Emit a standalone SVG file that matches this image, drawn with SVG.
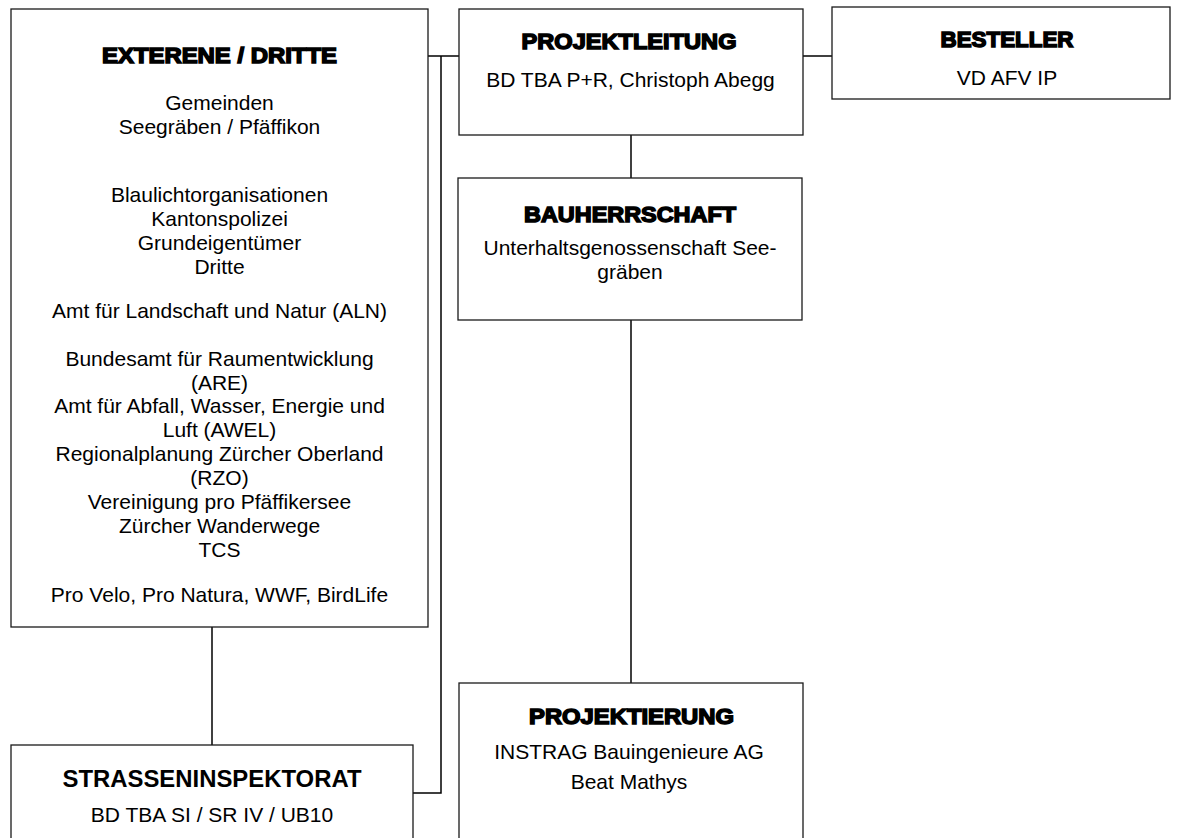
<svg xmlns="http://www.w3.org/2000/svg" width="1181" height="838" viewBox="0 0 1181 838">
<style>
.box{fill:#fff;stroke:#1a1a1a;stroke-width:1.3}
.con{stroke:#000;stroke-width:1.5;fill:none}
.t{font-family:"Liberation Sans",Arial,sans-serif;font-size:21px;fill:#000;text-anchor:middle}
.h{font-family:"Liberation Sans",Arial,sans-serif;font-weight:bold;font-size:22px;fill:#000;stroke:#000;stroke-width:1.5;text-anchor:middle}
.hb{font-family:"Liberation Sans",Arial,sans-serif;font-weight:bold;font-size:23px;fill:#000;text-anchor:middle}
</style>
<rect width="1181" height="838" fill="#fff"/>
<g id="connectors">
<line class="con" x1="428" y1="56" x2="459" y2="56"/>
<polyline class="con" points="441,56 441,793 413,793"/>
<line class="con" x1="803" y1="56" x2="832" y2="56"/>
<line class="con" x1="631" y1="135" x2="631" y2="178"/>
<line class="con" x1="631" y1="320" x2="631" y2="683"/>
<line class="con" x1="212" y1="627" x2="212" y2="745"/>
</g>
<g id="externe">
<rect class="box" x="11" y="9" width="417" height="618"/>
<text class="h" x="219.5" y="63" font-size="23" textLength="235" lengthAdjust="spacingAndGlyphs">EXTERENE / DRITTE</text>
<text class="t" x="219.5" y="110">Gemeinden</text>
<text class="t" x="219.5" y="134">Seegräben / Pfäffikon</text>
<text class="t" x="219.5" y="202">Blaulichtorganisationen</text>
<text class="t" x="219.5" y="226">Kantonspolizei</text>
<text class="t" x="219.5" y="250">Grundeigentümer</text>
<text class="t" x="219.5" y="274">Dritte</text>
<text class="t" x="219.5" y="318">Amt für Landschaft und Natur (ALN)</text>
<text class="t" x="219.5" y="366">Bundesamt für Raumentwicklung</text>
<text class="t" x="219.5" y="390">(ARE)</text>
<text class="t" x="219.5" y="413">Amt für Abfall, Wasser, Energie und</text>
<text class="t" x="219.5" y="437">Luft (AWEL)</text>
<text class="t" x="219.5" y="461">Regionalplanung Zürcher Oberland</text>
<text class="t" x="219.5" y="485">(RZO)</text>
<text class="t" x="219.5" y="509">Vereinigung pro Pfäffikersee</text>
<text class="t" x="219.5" y="533">Zürcher Wanderwege</text>
<text class="t" x="219.5" y="557">TCS</text>
<text class="t" x="219.5" y="602">Pro Velo, Pro Natura, WWF, BirdLife</text>
</g>
<g id="projektleitung">
<rect class="box" x="459" y="9" width="344" height="126"/>
<text class="h" x="629" y="49" textLength="215" lengthAdjust="spacingAndGlyphs">PROJEKTLEITUNG</text>
<text class="t" x="630.5" y="87">BD TBA P+R, Christoph Abegg</text>
</g>
<g id="besteller">
<rect class="box" x="832" y="7" width="338" height="92"/>
<text class="h" x="1007" y="47" textLength="133" lengthAdjust="spacingAndGlyphs">BESTELLER</text>
<text class="t" x="1007" y="85">VD AFV IP</text>
</g>
<g id="bauherrschaft">
<rect class="box" x="458" y="178" width="344" height="142"/>
<text class="h" x="630" y="222" textLength="212" lengthAdjust="spacingAndGlyphs">BAUHERRSCHAFT</text>
<text class="t" x="630" y="255">Unterhaltsgenossenschaft See-</text>
<text class="t" x="630" y="279">gräben</text>
</g>
<g id="projektierung">
<rect class="box" x="459" y="683" width="344" height="170"/>
<text class="h" x="631.5" y="724" textLength="205" lengthAdjust="spacingAndGlyphs">PROJEKTIERUNG</text>
<text class="t" x="629" y="759">INSTRAG Bauingenieure AG</text>
<text class="t" x="629" y="789">Beat Mathys</text>
</g>
<g id="strasseninspektorat">
<rect class="box" x="11" y="745" width="402" height="110"/>
<text class="hb" x="212" y="787" textLength="299" lengthAdjust="spacingAndGlyphs">STRASSENINSPEKTORAT</text>
<text class="t" x="212" y="822">BD TBA SI / SR IV / UB10</text>
</g>
</svg>
